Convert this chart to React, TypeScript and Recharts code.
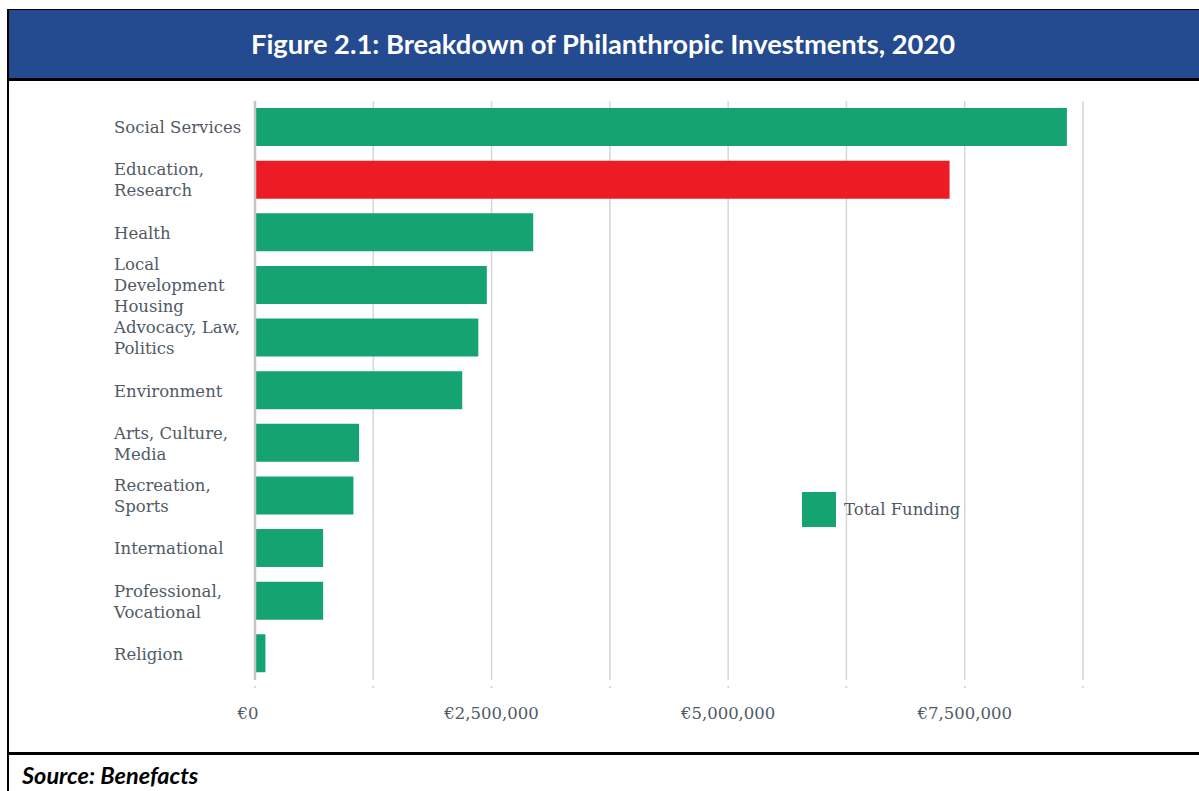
import * as React from 'react';
import {
  BarChart,
  Bar,
  Cell,
  XAxis,
  YAxis,
  CartesianGrid,
  ReferenceLine,
  Legend,
} from 'recharts';

const CATEGORIES = [
  'Social Services',
  'Education,\nResearch',
  'Health',
  'Local\nDevelopment\nHousing',
  'Advocacy, Law,\nPolitics',
  'Environment',
  'Arts, Culture,\nMedia',
  'Recreation,\nSports',
  'International',
  'Professional,\nVocational',
  'Religion',
];

const FUNDING = [
  8580000, 7340000, 2940000, 2450000, 2360000, 2190000, 1100000, 1040000,
  720000, 720000, 110000,
];

const HIGHLIGHTED = ['Education,\nResearch'];

const X_TICKS = [0, 1250000, 2500000, 3750000, 5000000, 6250000, 7500000, 8750000];
const X_LABELLED = [0, 2500000, 5000000, 7500000];

const GREEN = '#16a372';
const RED = '#ed1c24';
const TEXT = '#4f5a64';
const SERIF = '"DejaVu Serif", serif';

const data = CATEGORIES.map((name, i) => ({ name, value: FUNDING[i] }));

const fmtEuro = (v: number) => '€' + v.toLocaleString('en-US');

function CategoryTick(props: any) {
  const { y, payload } = props;
  const lines = String(payload.value).split('\n');
  const lh = 21;
  const start = y - ((lines.length - 1) * lh) / 2;
  return (
    <text
      x={114}
      y={start}
      fill={TEXT}
      fontFamily={SERIF}
      fontSize={16.5}
      textAnchor="start"
      dominantBaseline="central"
    >
      {lines.map((l, i) => (
        <tspan key={i} x={114} y={start + i * lh} dominantBaseline="central">
          {l}
        </tspan>
      ))}
    </text>
  );
}

function ValueTick(props: any) {
  const { x, y, payload } = props;
  const show = X_LABELLED.includes(payload.value);
  return (
    <g>
      <line x1={x} x2={x} y1={y - 2} y2={y} stroke="#cfcfcf" strokeWidth={1.5} />
      {show && (
        <text
          x={payload.value === 0 ? x - 7 : x}
          y={y + 31}
          fill={TEXT}
          fontFamily={SERIF}
          fontSize={16.5}
          textAnchor="middle"
        >
          {fmtEuro(payload.value)}
        </text>
      )}
    </g>
  );
}

function FundingLegend() {
  return (
    <div style={{ display: 'flex', alignItems: 'center' }}>
      <div style={{ width: 34, height: 35, background: GREEN }} />
      <span
        style={{
          marginLeft: 8,
          fontFamily: SERIF,
          fontSize: 16.5,
          color: TEXT,
        }}
      >
        Total Funding
      </span>
    </div>
  );
}

export default function App() {
  return (
    <div
      style={{
        position: 'absolute',
        left: 0,
        top: 0,
        width: 1199,
        height: 791,
        overflow: 'hidden',
        background: '#fff',
      }}
    >
      {/* title banner */}
      <div
        style={{
          position: 'absolute',
          left: 7,
          top: 9,
          width: 1200,
          height: 68,
          background: '#244a8f',
          borderTop: '1px solid #000',
          borderBottom: '3px solid #000',
          boxSizing: 'content-box',
        }}
      >
        <div
          style={{
            width: 1192,
            textAlign: 'center',
            color: '#fff',
            fontFamily: 'Lato, sans-serif',
            fontWeight: 700,
            fontSize: 27.3,
            lineHeight: '68px',
          }}
        >
          Figure 2.1: Breakdown of Philanthropic Investments, 2020
        </div>
      </div>
      {/* frame left border and bottom rule */}
      <div style={{ position: 'absolute', left: 7, top: 9, width: 2, height: 790, background: '#000' }} />
      <div style={{ position: 'absolute', left: 7, top: 752, width: 1200, height: 3, background: '#000' }} />

      <div style={{ position: 'absolute', left: 0, top: 80 }}>
        <BarChart
          width={1199}
          height={680}
          data={data}
          layout="vertical"
          barSize={38}
          margin={{ top: 21, right: 116, bottom: 5, left: 0 }}
        >
          <CartesianGrid horizontal={false} stroke="#d6d6d6" strokeWidth={1.5} />
          <XAxis
            type="number"
            domain={[0, 8750000]}
            ticks={X_TICKS}
            axisLine={false}
            tickLine={false}
            tick={<ValueTick />}
            height={40}
            interval={0}
          />
          <YAxis
            type="category"
            dataKey="name"
            width={255}
            axisLine={false}
            tickLine={false}
            tick={<CategoryTick />}
            interval={0}
          />
          <ReferenceLine x={0} stroke="#c4c4c4" strokeWidth={2.5} />
          <Legend
            content={<FundingLegend />}
            wrapperStyle={{ left: 802, top: 412, width: 200, bottom: 'auto' }}
          />
          <Bar dataKey="value" name="Total Funding" fill={GREEN} isAnimationActive={false}>
            {data.map((d) => (
              <Cell key={d.name} fill={HIGHLIGHTED.includes(d.name) ? RED : GREEN} />
            ))}
          </Bar>
        </BarChart>
      </div>

      <div
        style={{
          position: 'absolute',
          left: 22,
          top: 761,
          fontFamily: 'Lato, sans-serif',
          fontWeight: 700,
          fontStyle: 'italic',
          fontSize: 23.5,
          color: '#000',
        }}
      >
        Source: Benefacts
      </div>
    </div>
  );
}
